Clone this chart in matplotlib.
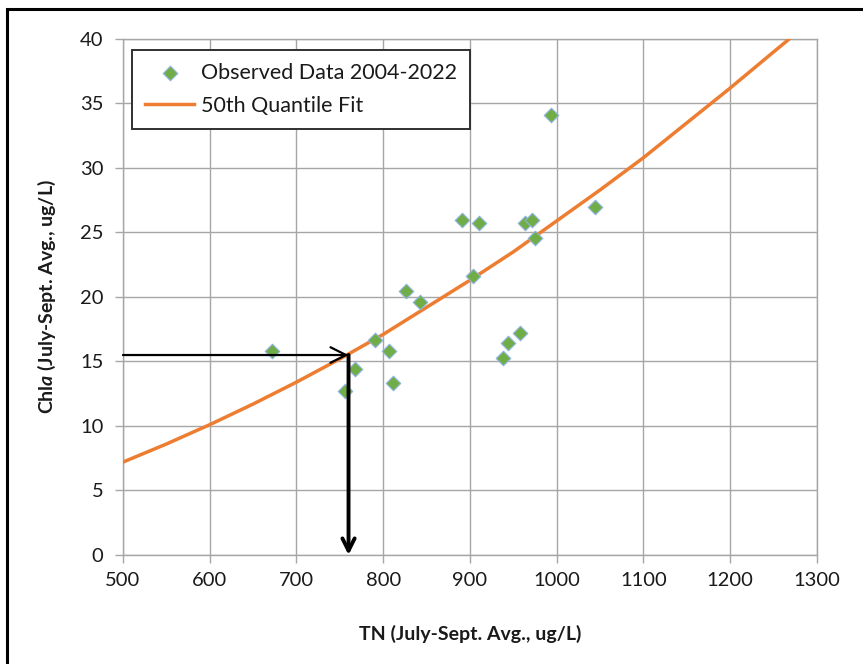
"""
Chla vs TN (July-Sept. averages) with the 50th quantile fit.
"""

import numpy as np
import matplotlib
matplotlib.use('Agg')
import matplotlib.pyplot as plt
from matplotlib.patches import Rectangle

plt.rcParams['font.family'] = ['Lato', 'DejaVu Sans']
plt.rcParams['mathtext.fontset'] = 'custom'
plt.rcParams['mathtext.bfit'] = 'Lato:italic:bold'

tn_obs = [672, 756, 767, 790, 807, 811, 826, 842, 891, 904,
          910, 938, 944, 958, 963, 971, 975, 993, 1044]
chla_obs = [15.8, 12.7, 14.4, 16.7, 15.8, 13.3, 20.5, 19.6, 26.0, 21.6,
            25.7, 15.3, 16.4, 17.2, 25.7, 26.0, 24.6, 34.1, 27.0]

# 50th quantile fit curve
tn_fit = [500, 550, 600, 650, 700, 750, 800, 850, 900, 950,
          1000, 1050, 1100, 1150, 1200, 1250, 1268]
chla_fit = [7.2, 8.6, 10.1, 11.7, 13.4, 15.2, 17.1, 19.2, 21.3, 23.5,
            25.9, 28.3, 30.8, 33.5, 36.2, 39.0, 40.0]

# target read-off
tn_target = 760
chla_target = 15.5

x_ticks = [500, 600, 700, 800, 900, 1000, 1100, 1200, 1300]
y_ticks = [0, 5, 10, 15, 20, 25, 30, 35, 40]

grid_col = '#a6a6a6'
text_col = '#1a1a1a'

fig = plt.figure(figsize=(8.63, 6.64), dpi=100)
ax = fig.add_axes([0.1425, 0.1642, 0.8042, 0.7771])

ax.plot(tn_fit, chla_fit, color='#ed7d31', lw=2.5, label='50th Quantile Fit', zorder=3)
ax.scatter(tn_obs, chla_obs, marker='D', s=55, color='#70ad47',
           edgecolors='#8fb4e0', linewidths=0.8, zorder=4,
           label='Observed Data 2004-2022')

ax.annotate('', xy=(tn_target, chla_target), xytext=(500, chla_target),
            arrowprops=dict(arrowstyle='->', lw=1.6, color='black',
                            mutation_scale=28, shrinkA=0, shrinkB=0), zorder=5)
ax.annotate('', xy=(tn_target, 0), xytext=(tn_target, chla_target),
            arrowprops=dict(arrowstyle='->', lw=2.8, color='black',
                            mutation_scale=22, shrinkA=0, shrinkB=0), zorder=5)

ax.set_xlim(500, 1300)
ax.set_ylim(0, 40)
ax.set_xticks(x_ticks)
ax.set_yticks(y_ticks)
ax.grid(True, color=grid_col, lw=1.0)
ax.set_axisbelow(True)
for s in ax.spines.values():
    s.set_color(grid_col)
    s.set_linewidth(1.0)
ax.tick_params(axis='both', color=grid_col, length=6, width=1.0,
               labelsize=14.5, labelcolor=text_col, pad=6)
ax.tick_params(axis='y', pad=8)

ax.set_xlabel('TN (July-Sept. Avg., ug/L)', fontsize=14, fontweight='bold',
              labelpad=26, color=text_col)
ax.set_ylabel('Chl$\\mathbfit{a}$ (July-Sept. Avg., ug/L)', fontsize=14,
              fontweight='bold', labelpad=16, color=text_col)

# legend: observed first, fit second
handles, labels = ax.get_legend_handles_labels()
leg = ax.legend(handles[::-1], labels[::-1], loc='upper left',
                bbox_to_anchor=(0.013, 0.979), borderaxespad=0,
                fontsize=15.5, frameon=True, fancybox=False,
                edgecolor='#303030', handlelength=2.3, handletextpad=0.3,
                borderpad=0.6, labelspacing=0.6)
for t in leg.get_texts():
    t.set_color(text_col)
leg.get_frame().set_linewidth(1.4)
leg.get_frame().set_alpha(1)

# outer border of the chart area
fig.patches.append(Rectangle((0.008, -0.01), 1.2, 0.996, transform=fig.transFigure,
                             fill=False, edgecolor='black', lw=2.2))

fig.savefig('out.png', dpi=100)
